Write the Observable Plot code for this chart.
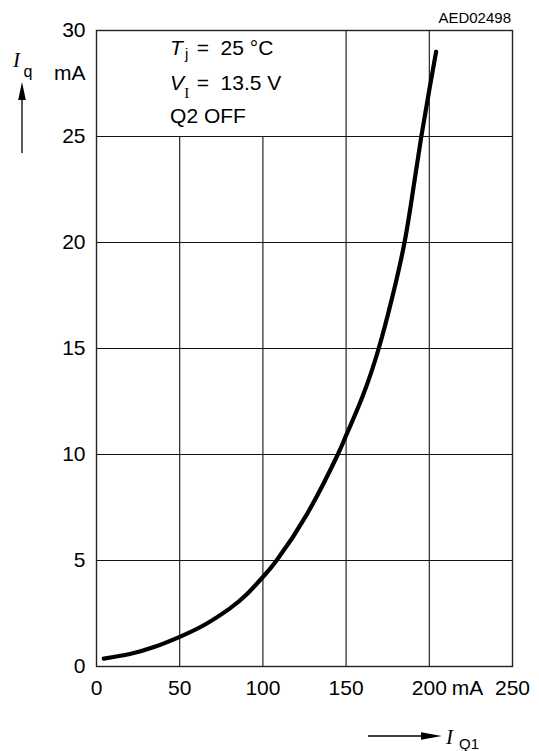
<!DOCTYPE html>
<html><head><meta charset="utf-8">
<script src="https://cdn.jsdelivr.net/npm/d3@7"></script>
<script src="https://cdn.jsdelivr.net/npm/@observablehq/plot@0.6"></script>
<style>
body{margin:0;background:#fff;}
svg text{fill:#000;}
</style></head><body><div id="chart"></div>
<script>
// Curve: quiescent current Iq (mA) vs output current IQ1 (mA)
const iQ1 = [4.4, 20, 35, 50, 65, 80, 90, 100, 108.2, 126.6, 145, 150, 159.7, 169.6, 177.7, 185.1, 190.5, 195.2, 200, 204.1];
const iq  = [0.37, 0.59, 0.93, 1.40, 1.97, 2.73, 3.38, 4.22, 5.0, 7.2, 10.0, 10.9, 12.7, 15.0, 17.4, 20.0, 22.6, 25.0, 27.2, 29.0];

const xTicks = [0, 50, 100, 150, 200, 250];
const yTicks = [0, 5, 10, 15, 20, 25, 30];
const yGrid = [5, 10, 15, 20, 25];
const xGrid = [50, 100, 150, 200];
const xGridTop = [25, 25, 30, 30];

const curve = iQ1.map((x, i) => ({x, y: iq[i]}));
const vgrid = xGrid.map((x, i) => ({x, top: xGridTop[i]}));

const SANS = '"Liberation Sans", Arial, sans-serif';
const SERIF = '"Liberation Serif", "Times New Roman", serif';

const plot = Plot.plot({
  width: 539, height: 751,
  marginLeft: 96, marginRight: 27, marginTop: 30, marginBottom: 85,
  x: {domain: [0, 250]},
  y: {domain: [0, 30]},
  style: {fontFamily: SANS, fontSize: "21px", background: "#fff", color: "#000", overflow: "visible"},
  marks: [
    Plot.ruleY(yGrid, {stroke: "#111", strokeWidth: 1.1}),
    Plot.ruleX(vgrid, {x: "x", y1: 0, y2: "top", stroke: "#111", strokeWidth: 1.1}),
    Plot.frame({stroke: "#222", strokeWidth: 1.4}),
    Plot.line(curve, {x: "x", y: "y", curve: "natural", stroke: "#000", strokeWidth: 4.2}),
    Plot.axisX(xTicks, {tickSize: 0, tickPadding: 14, label: null, fontSize: 21}),
    Plot.axisY(yTicks, {tickSize: 0, tickPadding: 11, label: null, fontSize: 21}),
    Plot.text(["mA"], {x: 223, y: 0, dy: 14, lineAnchor: "top", fontSize: 21}),
    Plot.text(["mA"], {x: 0, y: 28, dx: -11, textAnchor: "end", fontSize: 21})
  ]
});
document.getElementById("chart").appendChild(plot);

const svg = d3.select(plot);
const sx = plot.scale("x"), sy = plot.scale("y");
const X = v => sx.apply(v), Y = v => sy.apply(v);

function txt(x, y, s, opts = {}) {
  const t = svg.append("text")
    .attr("x", x).attr("y", y)
    .attr("font-family", opts.family || SANS)
    .attr("font-size", opts.size || 21)
    .attr("fill", "#000")
    .attr("text-anchor", opts.anchor || "start")
    .style("white-space", "pre");
  if (opts.italic) t.attr("font-style", "italic");
  t.text(s);
  return t;
}

// conditions box (inside plot, placed by data coordinates)
txt(X(44.5), Y(28.83), "T", {italic: true});
txt(X(53.5), Y(28.61), "j", {size: 15});
txt(X(60.5), Y(28.83), "=  25 °C");
txt(X(44.5), Y(27.18), "V", {italic: true});
txt(X(53.0), Y(26.79), "I", {size: 15, family: SERIF});
txt(X(60.5), Y(27.18), "=  13.5 V");
txt(X(44.5), Y(25.61), "Q2 OFF");

// drawing id
txt(511, 22.5, "AED02498", {size: 15, anchor: "end"});

// y-axis quantity with arrow
txt(13, 67, "I", {size: 21, family: SERIF, italic: true});
txt(23.5, 77, "q", {size: 16});
svg.append("line").attr("x1", 22).attr("x2", 22).attr("y1", 153).attr("y2", 98)
  .attr("stroke", "#000").attr("stroke-width", 1.3);
svg.append("polygon").attr("points", "22,82 18.2,100 25.8,100").attr("fill", "#000");

// x-axis quantity with arrow
svg.append("line").attr("x1", 368).attr("x2", 424).attr("y1", 736).attr("y2", 736)
  .attr("stroke", "#000").attr("stroke-width", 1.3);
svg.append("polygon").attr("points", "441.7,736 421,732.2 421,739.8").attr("fill", "#000");
txt(446, 744, "I", {size: 21, family: SERIF, italic: true});
txt(459, 749, "Q1", {size: 15});
</script></body></html>
